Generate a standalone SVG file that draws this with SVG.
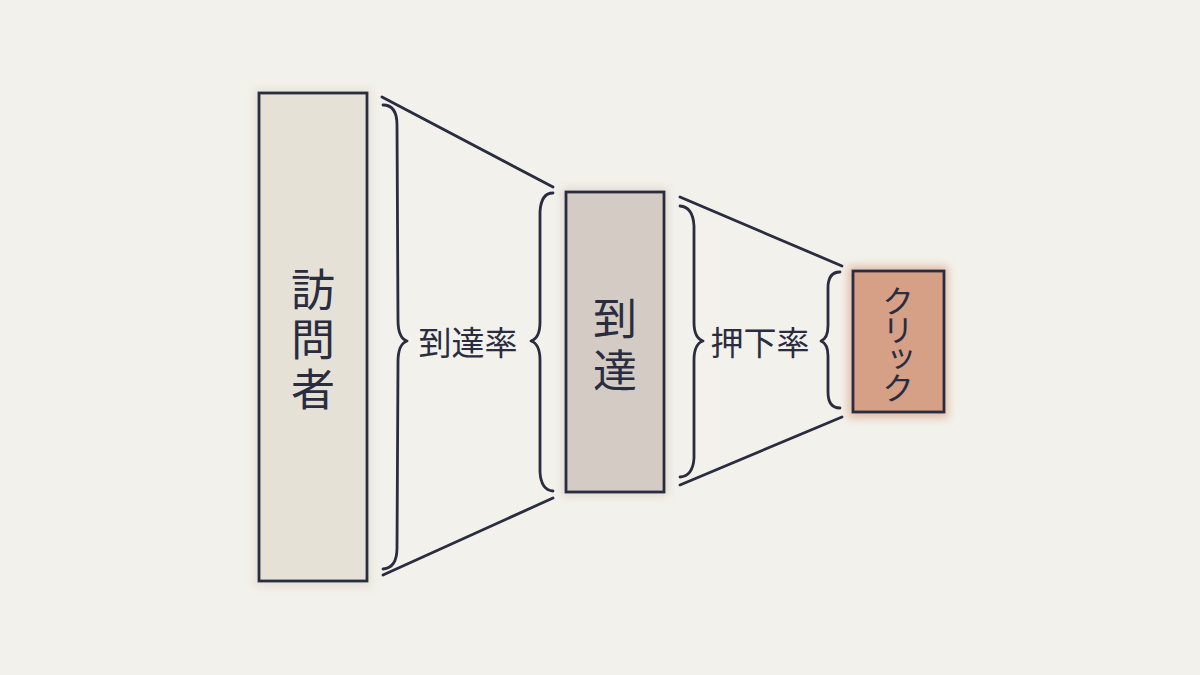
<svg xmlns="http://www.w3.org/2000/svg" width="1200" height="675" viewBox="0 0 1200 675">
<defs>
<filter id="soft" x="-20%" y="-20%" width="140%" height="140%"><feGaussianBlur stdDeviation="4"/></filter>
<style>
.ink{fill:none;stroke:#2a2c40;stroke-width:2.8;stroke-linecap:round;stroke-linejoin:round}
.box{stroke:#2a2c40;stroke-width:2.8}
.big{font-family:"Noto Sans CJK JP","Noto Sans",sans-serif;font-size:44px;fill:#2a2c40;writing-mode:vertical-rl;text-anchor:middle}
.lab{font-family:"Noto Sans CJK JP","Noto Sans",sans-serif;font-size:33px;fill:#2a2c40;text-anchor:middle;dominant-baseline:central}
</style>
</defs>
<rect width="1200" height="675" fill="#f3f1eb"/>
<g id="node-visitors">
<rect x="254" y="88" width="118" height="500" fill="#e2ddd1" filter="url(#soft)" opacity="0.7"/>
<rect class="box" x="259" y="93" width="108" height="488" fill="#e5e1d6"/>
<text class="big" x="313" y="342" letter-spacing="6">訪問者</text>
</g>
<g id="node-reach">
<rect x="562" y="188" width="106" height="308" fill="#d6cfc6" filter="url(#soft)" opacity="0.7"/>
<rect class="box" x="566" y="192" width="98" height="300" fill="#d4ccc4"/>
<text class="big" x="615" y="348" letter-spacing="8">到達</text>
</g>
<g id="node-click">
<rect x="848" y="266" width="100" height="152" fill="#d9a68a" filter="url(#soft)" opacity="0.7"/>
<rect class="box" x="853" y="271" width="91" height="141" fill="#d5a086"/>
<text class="big" x="898" y="343" style="font-size:32px" letter-spacing="-3">クリック</text>
</g>
<g id="connectors">
<path class="ink" d="M382,97 L553,187"/>
<path class="ink" d="M383,575 L553,498"/>
<path class="ink" d="M680,197 L842,266"/>
<path class="ink" d="M680,485 L842,417"/>
<path class="ink" d="M383,105 Q397,105 397,125 L398,320 Q398,338 407,341 Q398,344 398,362 L397,548 Q397,568 383,569"/>
<path class="ink" d="M553,193 Q541,193 540,212 L540,322 Q540,338 531,341 Q540,344 540,360 L540,472 Q541,490 553,491"/>
<path class="ink" d="M680,206 Q693,207 694,226 L694,322 Q694,338 703,341 Q694,344 694,360 L694,458 Q693,476 680,477"/>
<path class="ink" d="M840,272 Q828,272 828,288 L828,326 Q828,338 821,341 Q828,344 828,356 L828,392 Q828,408 840,408"/>
</g>
<g id="labels">
<text class="lab" x="468" y="341">到達率</text>
<text class="lab" x="760" y="341">押下率</text>
</g>
</svg>
